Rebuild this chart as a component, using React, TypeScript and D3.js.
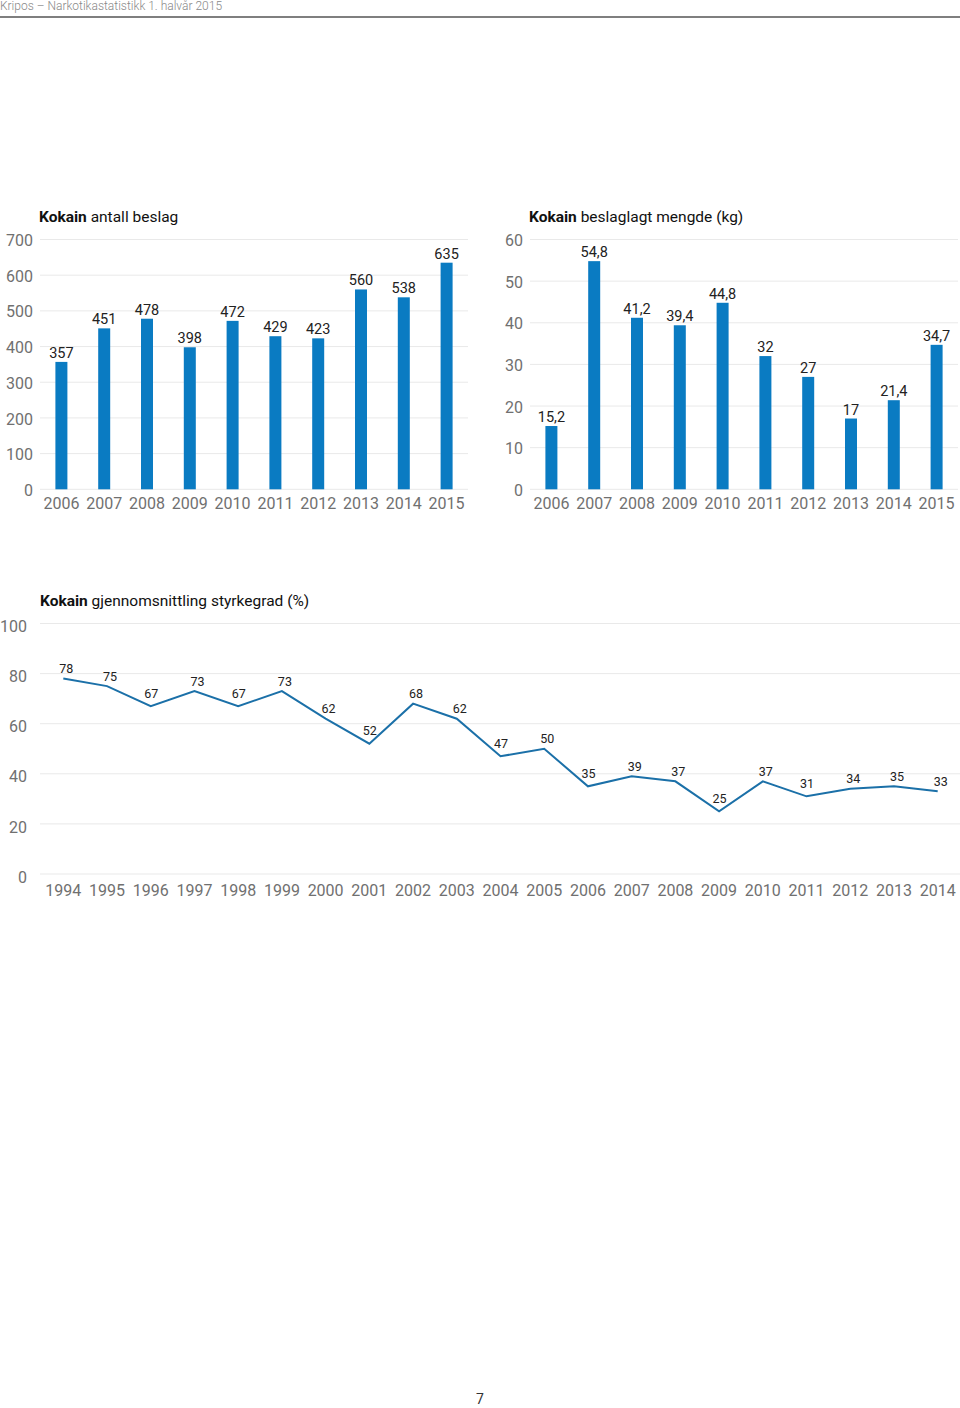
import React from "react";
import * as d3 from "d3";

const barYears = ["2006", "2007", "2008", "2009", "2010", "2011", "2012", "2013", "2014", "2015"];
const seizureCounts = [357, 451, 478, 398, 472, 429, 423, 560, 538, 635];
const seizureCountLabels = ["357", "451", "478", "398", "472", "429", "423", "560", "538", "635"];
const countTicks = [0, 100, 200, 300, 400, 500, 600, 700];

const seizureKg = [15.2, 54.8, 41.2, 39.4, 44.8, 32, 27, 17, 21.4, 34.7];
const seizureKgLabels = ["15,2", "54,8", "41,2", "39,4", "44,8", "32", "27", "17", "21,4", "34,7"];
const kgTicks = [0, 10, 20, 30, 40, 50, 60];

const purityYears = ["1994", "1995", "1996", "1997", "1998", "1999", "2000", "2001", "2002", "2003", "2004", "2005", "2006", "2007", "2008", "2009", "2010", "2011", "2012", "2013", "2014"];
const purity = [78, 75, 67, 73, 67, 73, 62, 52, 68, 62, 47, 50, 35, 39, 37, 25, 37, 31, 34, 35, 33];
const purityTicks = [0, 20, 40, 60, 80, 100];

const FONT = "Roboto, 'Noto Sans', sans-serif";
const BAR = "#0a7bc2";
const LINE = "#1b70a8";
const GRID = "#e9e9e9";
const TICK = "#707070";
const LABEL = "#222";

function BarChart({ x0, x1, y0, y1, values, labels, max, ticks, titleBold, title, tickX }: any) {
  const x = d3.scaleBand().domain(barYears).range([x0, x1]).padding(0);
  const y = d3.scaleLinear().domain([0, max]).range([y0, y1]);
  const bw = 12;
  return (
    <g>
      <text x={x0 - 1} y={222} fontFamily={FONT} fontSize={15.5} fill="#111">
        <tspan fontWeight={700}>{titleBold}</tspan>
        <tspan> {title}</tspan>
      </text>
      {ticks.map((t: number) => (
        <g key={t}>
          <line x1={x0} x2={x1} y1={y(t)} y2={y(t)} stroke={GRID} strokeWidth={1} />
          <text x={tickX} y={y(t) + 1} dy="0.35em" textAnchor="end" fontFamily={FONT} fontSize={16} fill={TICK}>{t}</text>
        </g>
      ))}
      {values.map((v: number, i: number) => {
        const cx = (x(barYears[i]) as number) + x.bandwidth() / 2;
        return (
          <g key={i}>
            <rect x={cx - bw / 2} y={y(v)} width={bw} height={y(0) - y(v)} fill={BAR} />
            <text x={cx} y={y(v) - 4} textAnchor="middle" fontFamily={FONT} fontSize={14.5} fill={LABEL}>{labels[i]}</text>
            <text x={cx} y={503} dy="0.35em" textAnchor="middle" fontFamily={FONT} fontSize={16} fill={TICK}>{barYears[i]}</text>
          </g>
        );
      })}
    </g>
  );
}

function LineChart() {
  const x = d3.scalePoint().domain(purityYears).range([63.3, 937.7]);
  const y = d3.scaleLinear().domain([0, 100]).range([874, 623.5]);
  const line = d3.line<number>().x((_, i) => x(purityYears[i]) as number).y((d) => y(d));
  const isMin = (i: number) =>
    i > 0 && i < purity.length - 1 && purity[i] < purity[i - 1] && purity[i] < purity[i + 1];
  return (
    <g>
      <text x={40} y={606} fontFamily={FONT} fontSize={15.5} fill="#111">
        <tspan fontWeight={700}>Kokain</tspan>
        <tspan> gjennomsnittling styrkegrad (%)</tspan>
      </text>
      {purityTicks.map((t) => (
        <g key={t}>
          <line x1={40} x2={960} y1={y(t)} y2={y(t)} stroke={GRID} strokeWidth={1} />
          <text x={27} y={y(t) + 3} dy="0.35em" textAnchor="end" fontFamily={FONT} fontSize={16} fill={TICK}>{t}</text>
        </g>
      ))}
      <path d={line(purity) || ""} fill="none" stroke={LINE} strokeWidth={2} strokeLinejoin="miter" />
      {purity.map((v, i) => (
        <g key={i}>
          <text x={(x(purityYears[i]) as number) + (isMin(i) ? 0.5 : 3)} y={y(v) - (isMin(i) ? 13 : 10)} dy="0.35em" textAnchor="middle" fontFamily={FONT} fontSize={12.5} fill={LABEL}>{v}</text>
          <text x={x(purityYears[i]) as number} y={890} dy="0.35em" textAnchor="middle" fontFamily={FONT} fontSize={16} fill={TICK}>{purityYears[i]}</text>
        </g>
      ))}
    </g>
  );
}

export default function App() {
  return (
    <svg width={960} height={1408} style={{ position: "absolute", left: 0, top: 0, background: "#fff" }}>
      <rect width={960} height={1408} fill="#fff" />
      <text x={0} y={10} fontFamily={FONT} fontSize={12} fontWeight={300} fill="#888">Kripos – Narkotikastatistikk 1. halvår 2015</text>
      <line x1={0} x2={960} y1={17} y2={17} stroke="#555" strokeWidth={1.3} />
      <BarChart x0={40} x1={468} y0={489.3} y1={239.5} values={seizureCounts} labels={seizureCountLabels} max={700} ticks={countTicks} titleBold="Kokain" title="antall beslag" tickX={33} />
      <BarChart x0={530} x1={958} y0={489.3} y1={239.5} values={seizureKg} labels={seizureKgLabels} max={60} ticks={kgTicks} titleBold="Kokain" title="beslaglagt mengde (kg)" tickX={523} />
      <LineChart />
      <text x={480} y={1404} textAnchor="middle" fontFamily={FONT} fontSize={14} fill="#333">7</text>
    </svg>
  );
}
